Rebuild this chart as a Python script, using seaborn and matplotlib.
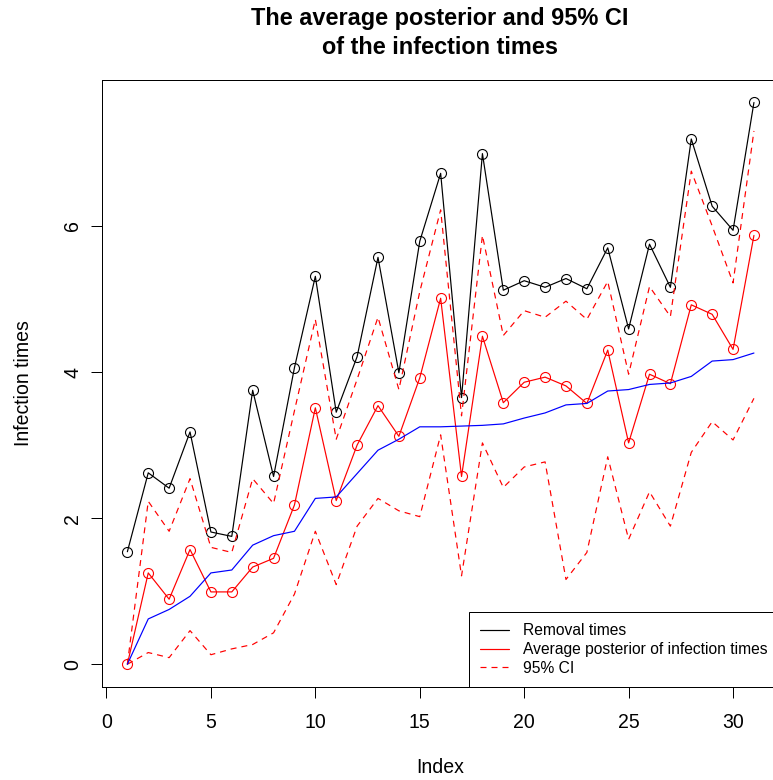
import numpy as np
import pandas as pd
import matplotlib
matplotlib.use("Agg")
import matplotlib.pyplot as plt
import seaborn as sns
from matplotlib.lines import Line2D

index = list(range(1, 32))
removal_times = [1.54, 2.62, 2.41, 3.18, 1.81, 1.75, 3.75, 2.57, 4.06, 5.31,
                 3.45, 4.21, 5.57, 3.99, 5.79, 6.72, 3.65, 6.99, 5.12, 5.25,
                 5.16, 5.28, 5.14, 5.70, 4.59, 5.75, 5.16, 7.19, 6.27, 5.94, 7.69]
avg_posterior = [0.00, 1.25, 0.89, 1.57, 0.99, 0.99, 1.33, 1.45, 2.18, 3.51,
                 2.24, 3.00, 3.54, 3.12, 3.92, 5.01, 2.57, 4.49, 3.58, 3.86,
                 3.93, 3.81, 3.57, 4.30, 3.03, 3.97, 3.84, 4.92, 4.79, 4.31, 5.87]
blue_line = [0.00, 0.62, 0.75, 0.93, 1.25, 1.29, 1.63, 1.76, 1.82, 2.27,
             2.29, 2.61, 2.93, 3.08, 3.25, 3.25, 3.26, 3.27, 3.29, 3.37,
             3.44, 3.55, 3.57, 3.74, 3.76, 3.83, 3.85, 3.94, 4.15, 4.17, 4.26]
ci_upper = [0.00, 2.23, 1.82, 2.54, 1.60, 1.53, 2.54, 2.20, 3.47, 4.72,
            3.08, 3.90, 4.75, 3.76, 5.10, 6.22, 3.40, 5.87, 4.50, 4.84,
            4.75, 4.97, 4.72, 5.24, 3.97, 5.17, 4.76, 6.75, 6.00, 5.22, 7.30]
ci_lower = [0.00, 0.16, 0.09, 0.46, 0.13, 0.21, 0.27, 0.43, 0.96, 1.82,
            1.09, 1.89, 2.27, 2.10, 2.02, 3.14, 1.21, 3.03, 2.42, 2.70,
            2.77, 1.16, 1.53, 2.84, 1.71, 2.36, 1.89, 2.90, 3.32, 3.07, 3.64]
x_ticks = [0, 5, 10, 15, 20, 25, 30]
y_ticks = [0, 2, 4, 6]
title_lines = ["The average posterior and 95% CI", "of the infection times"]
legend_labels = ["Removal times", "Average posterior of infection times", "95% CI"]

df = pd.DataFrame({"Index": index, "removal": removal_times, "avg": avg_posterior,
                   "blue": blue_line, "upper": ci_upper, "lower": ci_lower})

sns.set_style("white")
plt.rcParams["font.family"] = ["Liberation Sans", "DejaVu Sans"]
plt.rcParams["text.color"] = "black"
plt.rcParams["axes.labelcolor"] = "black"
plt.rcParams["xtick.color"] = "black"
plt.rcParams["ytick.color"] = "black"

W, H = 773, 780
fig = plt.figure(figsize=(W / 72, H / 72), dpi=72)
left_px, right_px, top_px, bottom_px = 102.3, 779.0, 80.0, 686.7
ax = fig.add_axes([left_px / W, 1 - bottom_px / H, (right_px - left_px) / W, (bottom_px - top_px) / H])

lw = 1.2
dash = (0, (6 / lw, 5 / lw))
sns.lineplot(data=df, x="Index", y="removal", ax=ax, color="black", lw=lw,
             marker="o", markersize=10, markerfacecolor="none", markeredgecolor="black",
             markeredgewidth=1.1)
sns.lineplot(data=df, x="Index", y="avg", ax=ax, color="red", lw=lw,
             marker="o", markersize=10, markerfacecolor="none", markeredgecolor="red",
             markeredgewidth=1.1)
sns.lineplot(data=df, x="Index", y="upper", ax=ax, color="red", lw=lw, linestyle=dash)
sns.lineplot(data=df, x="Index", y="lower", ax=ax, color="red", lw=lw, linestyle=dash)
sns.lineplot(data=df, x="Index", y="blue", ax=ax, color="blue", lw=lw)

ymax = max(removal_times)
ax.set_xlim(1 - 0.04 * 30, 31 + 0.04 * 30)
ax.set_ylim(-0.04 * ymax, ymax * 1.04)
ax.set_xticks(x_ticks)
ax.set_yticks(y_ticks)
ax.tick_params(axis="both", direction="out", length=11, width=1, color="black",
               labelsize=19.5, bottom=True, left=True, labelcolor="black")
ax.tick_params(axis="x", pad=15)
ax.tick_params(axis="y", pad=9)
for lab in ax.get_yticklabels():
    lab.set_rotation(90)
    lab.set_va("center")
for sp in ax.spines.values():
    sp.set_visible(True)
    sp.set_color("black")
    sp.set_linewidth(1)

ax.set_xlabel("Index", fontsize=19.5, labelpad=26, color="black")
ax.set_ylabel("Infection times", fontsize=19.5, labelpad=30, color="black")

fig.text(440 / W, 1 - 18 / H, title_lines[0], ha="center", va="center",
         fontsize=23.5, fontweight="bold", color="black")
fig.text(440 / W, 1 - 47 / H, title_lines[1], ha="center", va="center",
         fontsize=23.5, fontweight="bold", color="black")

handles = [Line2D([], [], color="black", lw=lw),
           Line2D([], [], color="red", lw=lw),
           Line2D([], [], color="red", lw=lw, linestyle=dash)]
leg = ax.legend(handles, legend_labels, loc="lower right", bbox_to_anchor=(1, 0),
                borderaxespad=0, fontsize=15.6, frameon=True, fancybox=False,
                edgecolor="black", framealpha=1, handlelength=1.86, handletextpad=0.9,
                labelspacing=0.24, borderpad=0.7)
leg.get_frame().set_linewidth(1)
for t in leg.get_texts():
    t.set_color("black")

fig.savefig("out.png", dpi=72)
